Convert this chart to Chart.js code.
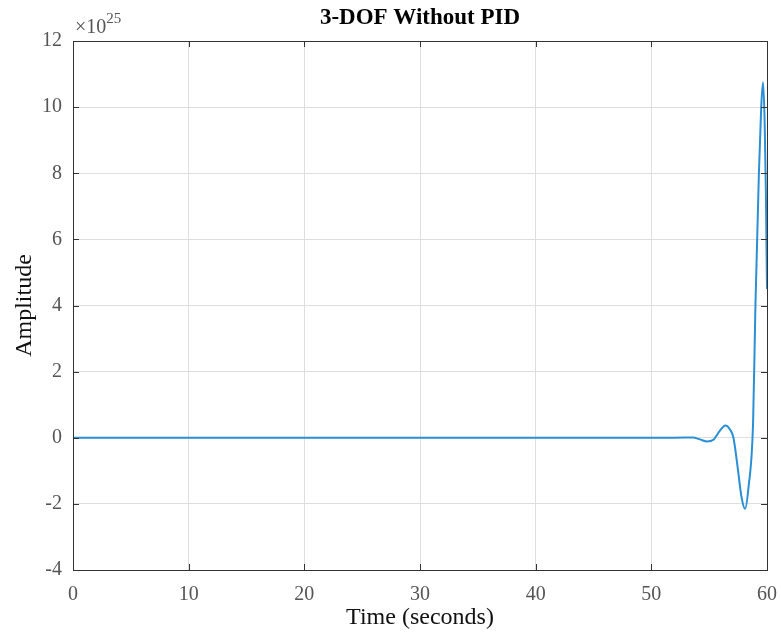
<!DOCTYPE html>
<html>
<head>
<meta charset="utf-8">
<title>3-DOF Without PID</title>
<script src="https://cdn.jsdelivr.net/npm/chart.js"></script>
<style>
  html, body { margin: 0; padding: 0; background: #ffffff; }
  #wrap { width: 781px; height: 638px; }
</style>
</head>
<body>
<div id="wrap"><canvas id="chart" width="781" height="638"></canvas></div>
<script>
// Response, amplitude in units of 1e25
const timeSec = [0, 10, 20, 30, 40, 50, 52, 53, 53.6, 54.2, 54.8, 55.4, 55.9, 56.4, 56.8, 57.1, 57.5, 57.8, 58.1, 58.4, 58.8, 59.0, 59.3, 59.5, 59.66, 59.8, 59.9, 60];
const amplitude = [0, 0, 0, 0, 0, 0, 0, 0.005, 0.01, -0.05, -0.11, -0.05, 0.2, 0.37, 0.25, 0, -1.0, -1.8, -2.15, -1.5, 0.5, 4.0, 8.0, 10.0, 10.75, 9.5, 7.5, 4.5];
const xTicks = [0, 10, 20, 30, 40, 50, 60];
const yTicks = [-4, -2, 0, 2, 4, 6, 8, 10, 12];
const exponentText = '25';

const serif = '"Liberation Serif", "DejaVu Serif", serif';
const tickGray = '#555555';

// MATLAB style box: top/right border, inward ticks, title and exponent label
const matlabBox = {
  id: 'matlabBox',
  afterDraw(chart) {
    const { ctx, chartArea: a, scales } = chart;
    ctx.save();
    ctx.strokeStyle = '#333333';
    ctx.lineWidth = 1;
    ctx.beginPath();
    ctx.rect(a.left + 0.5, a.top + 0.5, a.right - a.left, a.bottom - a.top);
    ctx.stroke();
    const len = 6;
    ctx.beginPath();
    xTicks.forEach(v => {
      const px = Math.round(scales.x.getPixelForValue(v)) + 0.5;
      ctx.moveTo(px, a.bottom); ctx.lineTo(px, a.bottom - len);
      ctx.moveTo(px, a.top); ctx.lineTo(px, a.top + len);
    });
    yTicks.forEach(v => {
      const py = Math.round(scales.y.getPixelForValue(v)) + 0.5;
      ctx.moveTo(a.left, py); ctx.lineTo(a.left + len, py);
      ctx.moveTo(a.right, py); ctx.lineTo(a.right - len, py);
    });
    ctx.stroke();

    // title centred over the plot area
    ctx.fillStyle = '#000000';
    ctx.font = 'bold 23px ' + serif;
    ctx.textAlign = 'center';
    ctx.textBaseline = 'middle';
    ctx.fillText('3-DOF Without PID', (a.left + a.right) / 2, 18);

    // x10^25 multiplier
    ctx.fillStyle = tickGray;
    ctx.textAlign = 'left';
    ctx.textBaseline = 'alphabetic';
    ctx.font = '20px ' + serif;
    ctx.fillText('\u00d710', a.left + 2, a.top - 8);
    const w = ctx.measureText('\u00d710').width;
    ctx.font = '15px ' + serif;
    ctx.fillText(exponentText, a.left + 2 + w, a.top - 18);
    ctx.restore();
  }
};

new Chart(document.getElementById('chart').getContext('2d'), {
  type: 'line',
  data: {
    datasets: [{
      data: timeSec.map((t, i) => ({ x: t, y: amplitude[i] })),
      borderColor: '#2a8fd4',
      borderWidth: 2,
      pointRadius: 0,
      fill: false,
      cubicInterpolationMode: 'monotone'
    }]
  },
  options: {
    responsive: false,
    animation: false,
    layout: { padding: { top: 41, right: 14, left: 0, bottom: 0 } },
    plugins: { legend: { display: false }, tooltip: { enabled: false }, title: { display: false } },
    scales: {
      x: {
        type: 'linear',
        min: 0, max: 60,
        afterBuildTicks: s => { s.ticks = xTicks.map(v => ({ value: v })); },
        afterFit: s => { s.height = 68; s.paddingLeft = 0; s.paddingRight = 0; },
        grid: { color: '#dedede', drawTicks: false },
        border: { color: '#333333' },
        ticks: { color: tickGray, font: { family: serif, size: 20 }, padding: 13, maxRotation: 0 },
        title: { display: true, text: 'Time (seconds)', color: '#111111', font: { family: serif, size: 24 }, padding: { top: 6, bottom: 6 } }
      },
      y: {
        min: -4, max: 12,
        afterBuildTicks: s => { s.ticks = yTicks.map(v => ({ value: v })); },
        afterFit: s => { s.width = 73; s.paddingTop = 0; s.paddingBottom = 0; },
        grid: { color: '#dedede', drawTicks: false },
        border: { color: '#333333' },
        ticks: { color: tickGray, font: { family: serif, size: 20 }, padding: 11 },
        title: { display: true, text: 'Amplitude', color: '#111111', font: { family: serif, size: 24 }, padding: { top: 10, bottom: 10 } }
      }
    }
  },
  plugins: [matlabBox]
});
</script>
</body>
</html>
